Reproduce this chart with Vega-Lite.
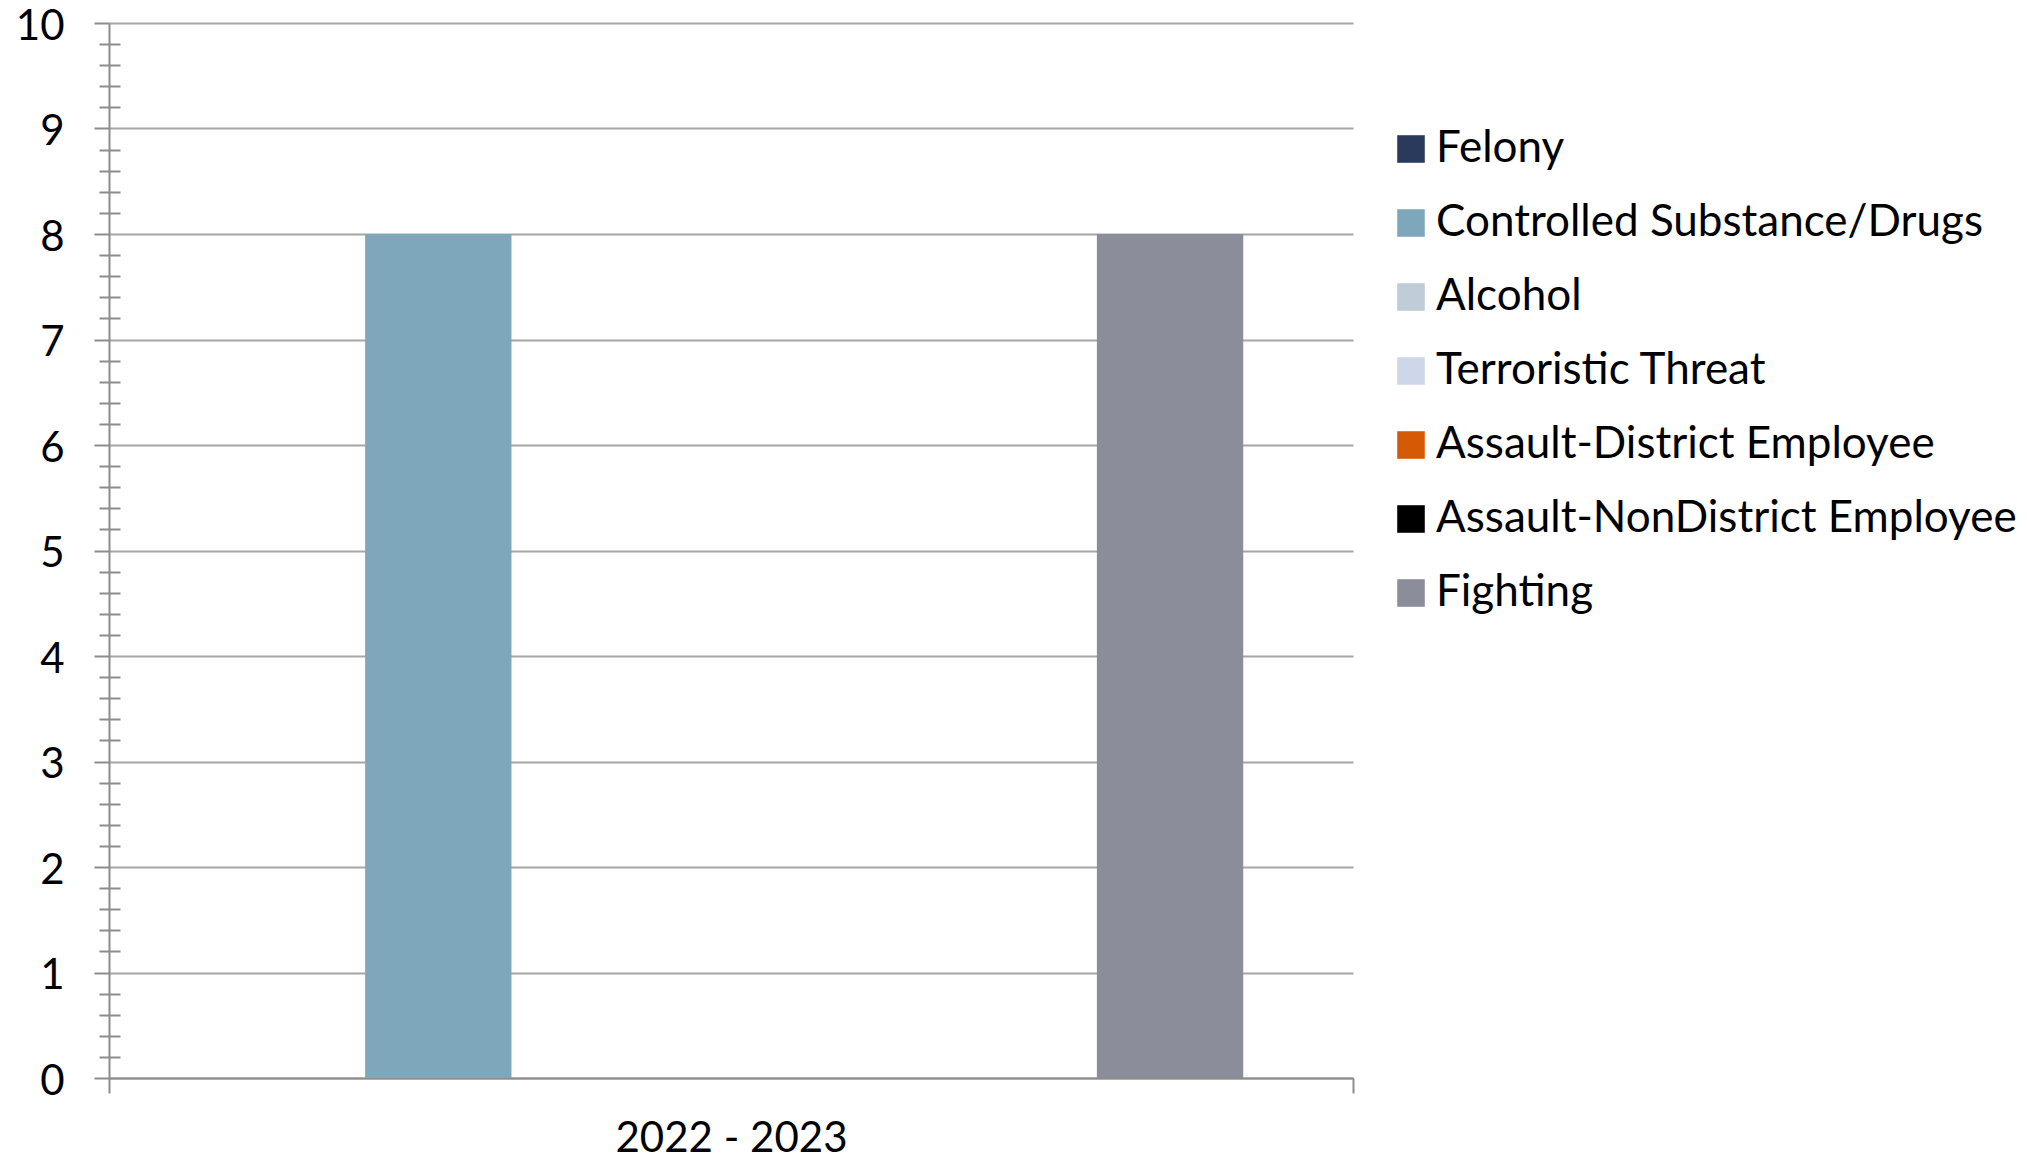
{
  "$schema": "https://vega.github.io/schema/vega-lite/v6.json",
  "width": 1244,
  "height": 1055,
  "autosize": {"type": "none"},
  "padding": {"left": 109, "top": 23, "right": 681, "bottom": 83},
  "background": "white",
  "config": {
    "view": {"stroke": null},
    "font": "Lato",
    "axis": {"labelFont": "Lato", "labelColor": "black", "labelLimit": 1000},
    "legend": {"labelFont": "Lato", "labelColor": "black"}
  },
  "data": {
    "values": [
      {"year": "2022 - 2023", "category": "Felony", "count": 0},
      {"year": "2022 - 2023", "category": "Controlled Substance/Drugs", "count": 8},
      {"year": "2022 - 2023", "category": "Alcohol", "count": 0},
      {"year": "2022 - 2023", "category": "Terroristic Threat", "count": 0},
      {"year": "2022 - 2023", "category": "Assault-District Employee", "count": 0},
      {"year": "2022 - 2023", "category": "Assault-NonDistrict Employee", "count": 0},
      {"year": "2022 - 2023", "category": "Fighting", "count": 8}
    ]
  },
  "layer": [
    {
      "mark": {"type": "bar"},
      "encoding": {
        "x": {
          "field": "year", "type": "nominal",
          "scale": {"paddingOuter": 0, "paddingInner": 0},
          "axis": {
            "title": null, "labelAngle": 0, "labelFontSize": 42, "labelPadding": 25, "labelLimit": 1000,
            "domainColor": "#8c8c8c", "domainWidth": 2,
            "tickBand": "extent", "tickSize": 15, "tickColor": "#8c8c8c", "tickWidth": 2,
            "grid": false
          }
        },
        "xOffset": {
          "field": "category", "type": "nominal",
          "scale": {
            "domain": ["Felony", "Controlled Substance/Drugs", "Alcohol", "Terroristic Threat", "Assault-District Employee", "Assault-NonDistrict Employee", "Fighting"],
            "paddingOuter": 0.75, "paddingInner": 0
          }
        },
        "y": {
          "field": "count", "type": "quantitative",
          "scale": {"domain": [0, 10], "nice": false, "zero": true},
          "axis": {
            "title": null, "orient": "left", "values": [0, 1, 2, 3, 4, 5, 6, 7, 8, 9, 10],
            "labelFontSize": 42, "labelPadding": 30, "labelOffset": 3,
            "grid": true, "gridColor": "#a6a6a6", "gridWidth": 2,
            "domainColor": "#8c8c8c", "domainWidth": 2,
            "tickSize": 15, "tickColor": "#8c8c8c", "tickWidth": 2
          }
        },
        "color": {
          "field": "category", "type": "nominal",
          "scale": {
            "domain": ["Felony", "Controlled Substance/Drugs", "Alcohol", "Terroristic Threat", "Assault-District Employee", "Assault-NonDistrict Employee", "Fighting"],
            "range": ["#2a3a5c", "#7fa7bb", "#c0ccd8", "#cdd7e9", "#d55a05", "#000000", "#8b8d9b"]
          },
          "legend": {
            "title": null, "orient": "none", "legendX": 1280, "legendY": 104,
            "symbolType": "square", "symbolSize": 760, "symbolStrokeWidth": 0,
            "labelFontSize": 44, "labelOffset": 3, "labelLimit": 1000, "rowPadding": 30, "padding": 0
          }
        }
      }
    },
    {
      "mark": {"type": "bar", "opacity": 0},
      "encoding": {
        "x": {"field": "year", "type": "nominal"},
        "xOffset": {
          "field": "category", "type": "nominal",
          "scale": {
            "domain": ["Felony", "Controlled Substance/Drugs", "Alcohol", "Terroristic Threat", "Assault-District Employee", "Assault-NonDistrict Employee", "Fighting"]
          }
        },
        "y": {
          "field": "count", "type": "quantitative",
          "axis": {
            "title": null, "orient": "left", "offset": -11,
            "values": [0.2, 0.4, 0.6, 0.8, 1.2, 1.4, 1.6, 1.8, 2.2, 2.4, 2.6, 2.8, 3.2, 3.4, 3.6, 3.8, 4.2, 4.4, 4.6, 4.8, 5.2, 5.4, 5.6, 5.8, 6.2, 6.4, 6.6, 6.8, 7.2, 7.4, 7.6, 7.8, 8.2, 8.4, 8.6, 8.8, 9.2, 9.4, 9.6, 9.8],
            "labels": false, "domain": false, "grid": false,
            "tickSize": 21, "tickColor": "#8c8c8c", "tickWidth": 2
          }
        }
      }
    }
  ],
  "resolve": {"axis": {"y": "independent"}}
}
